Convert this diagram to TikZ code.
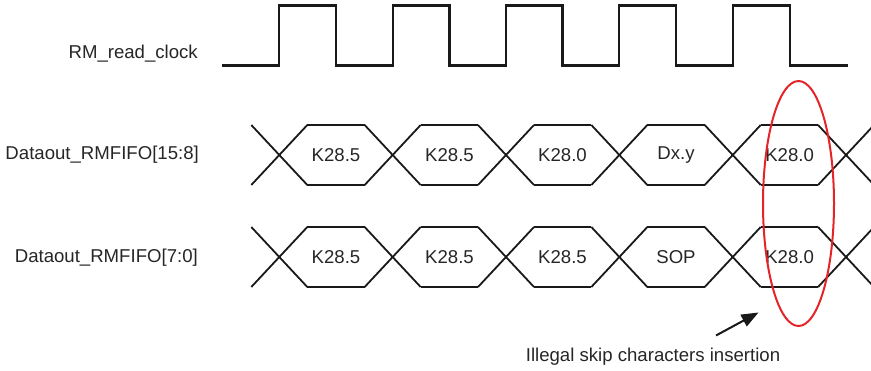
\documentclass[tikz,border=0pt]{standalone}
\usepackage{fontspec}
\setmainfont{Liberation Sans}
\usetikzlibrary{arrows.meta}
\definecolor{ovalred}{RGB}{228,36,40}
\begin{document}
\begin{tikzpicture}[x=1pt,y=-1pt,
  txt/.style={inner sep=0pt, font=\fontsize{18.6}{22}\selectfont, text=black!85},
  sig/.style={line width=1.8pt, black!90},
  clk/.style={line width=2.1pt, black!90}]
\useasboundingbox (0,0) rectangle (871,370);
% labels
\node[txt, anchor=east] (lclk) at (198,54) {RM\_read\_clock};
\node[txt, anchor=east] (lhi) at (199,155) {Dataout\_RMFIFO[15:8]};
\node[txt, anchor=east] (llo) at (198,258) {Dataout\_RMFIFO[7:0]};
% clock
\draw[clk] (222,65.5) -- (279.3,65.5) -- (279.3,5.5) -- (336,5.5) -- (336,65.5)
  -- (392.7,65.5) -- (392.7,5.5) -- (449.5,5.5) -- (449.5,65.5)
  -- (505.7,65.5) -- (505.7,5.5) -- (562.5,5.5) -- (562.5,65.5)
  -- (619.2,65.5) -- (619.2,5.5) -- (676,5.5) -- (676,65.5)
  -- (732.8,65.5) -- (732.8,5.5) -- (789.6,5.5) -- (789.6,65.5) -- (848,65.5);
% data rows
\foreach \yc/\row in {155/hi, 257/lo}{
  \begin{scope}
  \clip (0,0) rectangle (871,370);
  \foreach \i in {0,...,5}{
    \pgfmathsetmacro{\xa}{279.3+113.35*\i}
    \pgfmathsetmacro{\xb}{\xa+28}
    \draw[sig] (\xa-28,\yc-30) -- (\xa,\yc) -- (\xb,\yc+30);
    \draw[sig] (\xa-28,\yc+30) -- (\xa,\yc) -- (\xb,\yc-30);
  }
  \foreach \i in {0,...,4}{
    \pgfmathsetmacro{\xb}{279.3+113.35*\i+28}
    \pgfmathsetmacro{\xc}{279.3+113.35*(\i+1)-28}
    \draw[sig] (\xb,\yc-30) -- (\xc,\yc-30);
    \draw[sig] (\xb,\yc+30) -- (\xc,\yc+30);
  }
  \end{scope}
}
% cell texts
\node[txt] (h1) at (336,155) {K28.5};
\node[txt] (h2) at (449.5,155) {K28.5};
\node[txt] (h3) at (562.5,155) {K28.0};
\node[txt] (h4) at (676,155) {Dx.y};
\node[txt] (h5) at (789.6,155) {K28.0};
\node[txt] (l1) at (336,257) {K28.5};
\node[txt] (l2) at (449.5,257) {K28.5};
\node[txt] (l3) at (562.5,257) {K28.5};
\node[txt] (l4) at (676,257) {SOP};
\node[txt] (l5) at (789.6,257) {K28.0};
% oval
\draw[ovalred, line width=2pt] (798.5,203.5) ellipse [x radius=35.5, y radius=122.5];
% caption and arrow
\node[txt] (cap) at (653,357) {Illegal skip characters insertion};
\coordinate (tail) at (716,335.5);
\coordinate (tip) at (758.5,312.5);
\draw[line width=2pt, black!90, -{Triangle[length=17pt,width=13pt]}] (tail) -- (tip);
\end{tikzpicture}
\end{document}
